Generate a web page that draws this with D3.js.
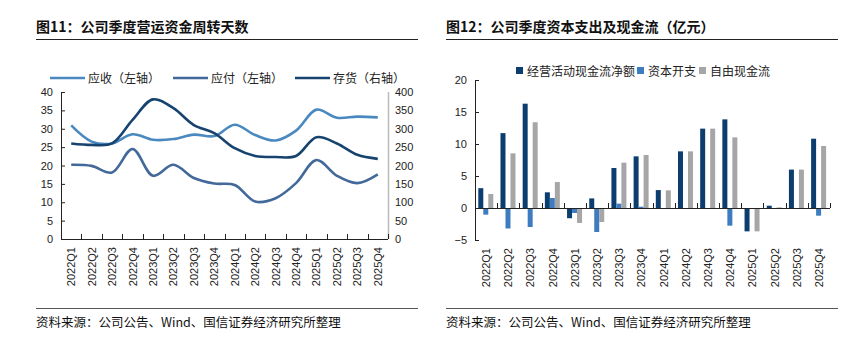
<!DOCTYPE html>
<html>
<head>
<meta charset="utf-8">
<script src="https://cdn.jsdelivr.net/npm/d3@7"></script>
<style>
body { margin: 0; background: #fff; }
svg text { font-family: "Liberation Sans", Arial, sans-serif; fill: #222; }
.cjk { font-family: "Noto Sans CJK SC", sans-serif; }
</style>
</head>
<body>
<svg id="chart" width="860" height="350"></svg>
<script>
/*---------------- données ----------------*/
var quarters = ["2022Q1","2022Q2","2022Q3","2022Q4","2023Q1","2023Q2","2023Q3","2023Q4",
                "2024Q1","2024Q2","2024Q3","2024Q4","2025Q1","2025Q2","2025Q3","2025Q4"];

// figure 11 : jours de rotation
var yingshou = [30.9, 26.5, 26.0, 28.5, 27.0, 27.2, 28.4, 28.0, 31.1, 28.3, 26.8, 29.5, 35.2, 33.0, 33.3, 33.1];
var yingfu   = [20.2, 19.9, 18.1, 24.5, 17.2, 20.2, 16.6, 15.1, 14.7, 10.2, 11.1, 15.2, 21.5, 17.2, 15.2, 17.6];
var cunhuo   = [260, 256, 260, 324, 380, 356, 310, 288, 247, 226, 223, 226, 277, 260, 229, 218];
var leftTicks = [0, 5, 10, 15, 20, 25, 30, 35, 40];
var rightTicks = [0, 50, 100, 150, 200, 250, 300, 350, 400];

// figure 12 : capex et cash-flow (亿元)
var jingying = [3.1, 11.7, 16.3, 2.45, -1.6, 1.5, 6.25, 8.07, 2.8, 8.85, 12.4, 13.85, -3.65, 0.36, 6.0, 10.83];
var ziben    = [-1.04, -3.2, -2.97, 1.56, -0.78, -3.75, 0.68, 0.2, 0, 0, 0, -2.76, 0, -0.15, 0, -1.2];
var ziyou    = [2.19, 8.54, 13.4, 4.06, -2.34, -2.19, 7.08, 8.28, 2.76, 8.85, 12.4, 11.04, -3.65, 0.1, 6.0, 9.69];
var barTicks = [-5, 0, 5, 10, 15, 20];

var svg = d3.select("#chart");

/*---------------- en-têtes et sources ----------------*/
function header(x0, x1, title) {
    svg.append("text").attr("class", "cjk")
        .attr("x", x0).attr("y", 32)
        .style("font-size", "14px").style("font-weight", "bold").style("fill", "#111")
        .text(title);
    svg.append("line").attr("x1", x0).attr("x2", x1).attr("y1", 39.5).attr("y2", 39.5)
        .style("stroke", "#222").style("stroke-width", 1);
    svg.append("line").attr("x1", x0).attr("x2", x1).attr("y1", 308.5).attr("y2", 308.5)
        .style("stroke", "#555").style("stroke-width", 1);
    svg.append("text").attr("class", "cjk")
        .attr("x", x0).attr("y", 327)
        .style("font-size", "12.5px").style("fill", "#111")
        .text("资料来源：公司公告、Wind、国信证券经济研究所整理");
}
header(36, 418, "图11：公司季度营运资金周转天数");
header(446, 838, "图12：公司季度资本支出及现金流（亿元）");

/*---------------- figure 11 ----------------*/
var x = d3.scaleBand().domain(quarters).range([61, 388]).padding(0);
var yL = d3.scaleLinear().domain([0, 40]).range([239, 92]);
var yR = d3.scaleLinear().domain([0, 400]).range([239, 92]);

var gL = svg.append("g").attr("transform", "translate(61,0)")
    .call(d3.axisLeft(yL).tickValues(leftTicks).tickSize(-4).tickPadding(8));
gL.selectAll("text").style("font-size", "11px").attr("dx", "0");
gL.select(".domain").attr("d", "M0.5,92V239").style("stroke", "#222");
gL.selectAll(".tick line").style("stroke", "#222");

var gR = svg.append("g").attr("transform", "translate(388,0)")
    .call(d3.axisRight(yR).tickValues(rightTicks).tickSize(0).tickPadding(7));
gR.selectAll("text").style("font-size", "11px");
gR.select(".domain").attr("d", "M0.5,92V239").style("stroke", "#bbb").style("stroke-width", 1.5);

// axe des x : graduations aux limites des catégories
var bounds = quarters.map(function(q) { return x(q); }).concat([388]);
svg.append("line").attr("x1", 61).attr("x2", 388).attr("y1", 239.5).attr("y2", 239.5).style("stroke", "#222");
svg.selectAll(".tkL").data(bounds).enter().append("line")
    .attr("x1", function(d) { return Math.round(d) + 0.5; }).attr("x2", function(d) { return Math.round(d) + 0.5; })
    .attr("y1", 239).attr("y2", 234).style("stroke", "#222");
svg.selectAll(".lblL").data(quarters).enter().append("text")
    .attr("transform", function(d) { return "translate(" + (x(d) + x.bandwidth() / 2 + 4) + ",247) rotate(-90)"; })
    .style("text-anchor", "end").style("font-size", "11px")
    .text(function(d) { return d; });

var lineL = d3.line()
    .x(function(d, i) { return x(quarters[i]) + x.bandwidth() / 2; })
    .y(function(d) { return yL(d); })
    .curve(d3.curveCatmullRom.alpha(0.5));
var lineR = d3.line()
    .x(function(d, i) { return x(quarters[i]) + x.bandwidth() / 2; })
    .y(function(d) { return yR(d); })
    .curve(d3.curveCatmullRom.alpha(0.5));

var seriesL = [
    {name: "应收（左轴）", values: yingshou, color: "#4a89c0", line: lineL, lx: 50},
    {name: "应付（左轴）", values: yingfu, color: "#42699a", line: lineL, lx: 173},
    {name: "存货（右轴）", values: cunhuo, color: "#17436f", line: lineR, lx: 295}
];
seriesL.forEach(function(s) {
    svg.append("path").datum(s.values)
        .attr("d", s.line)
        .style("fill", "none").style("stroke", s.color).style("stroke-width", 2.6);
    svg.append("line").attr("x1", s.lx).attr("x2", s.lx + 35).attr("y1", 78).attr("y2", 78)
        .style("stroke", s.color).style("stroke-width", 2.6);
    svg.append("text").attr("class", "cjk").attr("x", s.lx + 38).attr("y", 82.5)
        .style("font-size", "12px").text(s.name);
});

/*---------------- figure 12 ----------------*/
var x0 = d3.scaleBand().domain(quarters).range([475, 830]).padding(0);
var bw = x0.bandwidth();
var series = ["经营活动现金流净额", "资本开支", "自由现金流"];
var colors = {"经营活动现金流净额": "#0b3e6f", "资本开支": "#3d7dbf", "自由现金流": "#a6a6a6"};
var values = {"经营活动现金流净额": jingying, "资本开支": ziben, "自由现金流": ziyou};
var x1 = d3.scaleBand().domain(series).range([3.3, bw - 3.9]).padding(0);
var y = d3.scaleLinear().domain([-5, 20]).range([240, 80]);

var gY = svg.append("g").attr("transform", "translate(475,0)")
    .call(d3.axisLeft(y).tickValues(barTicks).tickSize(-4).tickPadding(8)
        .tickFormat(function(d) { return d < 0 ? "\u2212" + Math.abs(d) : d; }));
gY.selectAll("text").style("font-size", "11px");
gY.select(".domain").attr("d", "M0.5,80V240").style("stroke", "#222");
gY.selectAll(".tick line").style("stroke", "#222");

series.forEach(function(s) {
    svg.selectAll(".bar" + series.indexOf(s)).data(values[s]).enter().append("rect")
        .attr("x", function(d, i) { return x0(quarters[i]) + x1(s); })
        .attr("y", function(d) { return y(Math.max(0, d)); })
        .attr("width", x1.bandwidth())
        .attr("height", function(d) { return Math.abs(y(d) - y(0)); })
        .style("fill", colors[s]);
});

var bounds2 = quarters.map(function(q) { return x0(q); }).concat([830]);
svg.append("line").attr("x1", 475).attr("x2", 830).attr("y1", y(0) + 0.5).attr("y2", y(0) + 0.5).style("stroke", "#222");
svg.selectAll(".tkR").data(bounds2.slice(1)).enter().append("line")
    .attr("x1", function(d) { return Math.round(d) + 0.5; }).attr("x2", function(d) { return Math.round(d) + 0.5; })
    .attr("y1", y(0)).attr("y2", y(0) - 5).style("stroke", "#222");
svg.selectAll(".lblR").data(quarters).enter().append("text")
    .attr("transform", function(d) { return "translate(" + (x0(d) + bw / 2 + 4) + ",248) rotate(-90)"; })
    .style("text-anchor", "end").style("font-size", "11px")
    .text(function(d) { return d; });

// légende
var legX = [516, 637, 699];
series.forEach(function(s, i) {
    svg.append("rect").attr("x", legX[i]).attr("y", 67).attr("width", 7).attr("height", 7)
        .style("fill", colors[s]);
    svg.append("text").attr("class", "cjk").attr("x", legX[i] + 11).attr("y", 75.5)
        .style("font-size", "12px").text(s);
});
</script>
</body>
</html>
